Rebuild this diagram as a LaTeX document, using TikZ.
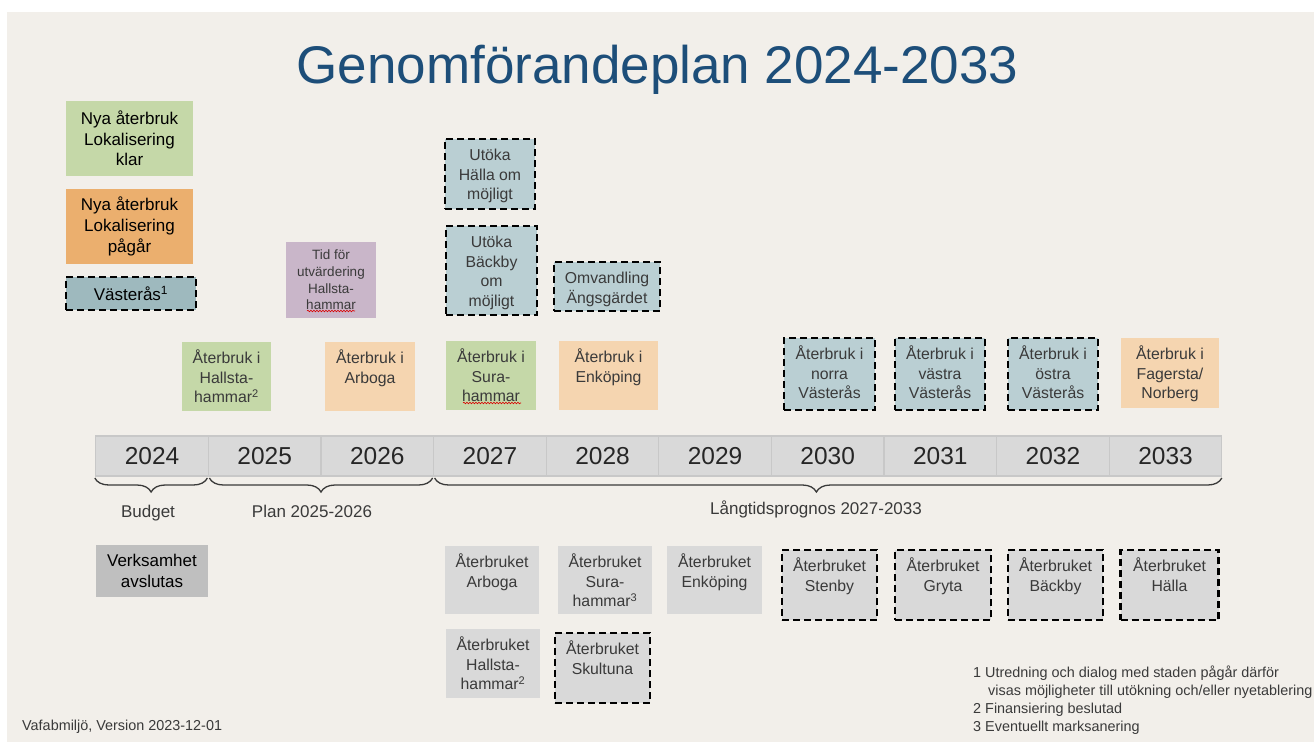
\documentclass[tikz,border=0pt]{standalone}
\usepackage{fontspec}
\setmainfont{Liberation Sans}
\usepackage[dvipsnames]{xcolor}
\usetikzlibrary{positioning,decorations.pathreplacing,decorations.pathmorphing}

\definecolor{slide}{HTML}{F2EFEA}
\definecolor{titleblue}{HTML}{1D4E79}
\definecolor{klargreen}{HTML}{C5D8A8}
\definecolor{pagorange}{HTML}{EBAF6E}
\definecolor{lightorange}{HTML}{F5D5B0}
\definecolor{vasteras}{HTML}{9EB9BE}
\definecolor{vastlight}{HTML}{BACFD3}
\definecolor{evalpurple}{HTML}{C9B6C9}
\definecolor{closedgrey}{HTML}{D9D9D9}
\definecolor{endgrey}{HTML}{BFBFBF}
\definecolor{cellline}{HTML}{C8C8C8}
\definecolor{ink}{HTML}{3A3A3A}

\begin{document}
\begin{tikzpicture}[x=1pt,y=-1pt,
    box/.style 2 args={rectangle,inner sep=0pt,outer sep=0pt,minimum width=#1pt,minimum height=#2pt},
    box text/.style={draw=none,fill=none,inner sep=0pt,align=center,text=ink,font=\fontsize{15.8}{19.7}\selectfont},
    top text/.style={label={[box text,anchor=north,yshift=-7.5pt]north:\strut #1}},
    dash box/.style={draw=black,line width=2.3pt,dash pattern=on 7pt off 4pt},
    legend text/.style={align=center,text=black,font=\fontsize{17}{20.7}\selectfont},
    year node/.style={rectangle,draw=cellline,line width=1.2pt,fill=closedgrey,minimum width=112.6pt,minimum height=40pt,inner sep=0pt,outer sep=0pt,text=black!85,font=\fontsize{24.5}{28}\selectfont},
    brace/.style={decorate,decoration={brace,mirror,amplitude=14pt,#1},draw=ink,line width=1.3pt},
    brace label/.style={text=ink,font=\fontsize{17}{20}\selectfont},
    note/.style={inner sep=0pt,text=ink,font=\fontsize{14.4}{18}\selectfont},
    squiggle/.style={decorate,decoration={snake,amplitude=0.8pt,segment length=3pt},draw=red!85!black,line width=0.6pt}]

    \useasboundingbox (0,0) rectangle (1314,742);
    \fill[white] (0,0) rectangle (1314,742);
    \fill[slide] (7,12) rectangle (1314,742);

    \node[text=titleblue,anchor=base,font=\fontsize{53}{60}\selectfont] (title) at (657.5,83) {Genomförandeplan 2024-2033};

    % legend
    \node[box={127}{75},fill=klargreen,legend text] (klar) at (129.5,138.5) {Nya återbruk\\Lokalisering\\klar};
    \node[box={127}{75},fill=pagorange,legend text] (pagar) at (129.5,226.5) {Nya återbruk\\Lokalisering\\pågår};
    \node[box={130}{33},fill=vasteras,dash box,legend text] (vast) at (131,293.5) {Västerås\textsuperscript{1}};

    \node[box={90}{76},fill=evalpurple,align=center,text=ink,font=\fontsize{13.5}{16.6}\selectfont] (eval) at (331,280) {Tid för\\utvärdering\\Hallsta-\\hammar};
    \draw[squiggle] (307,311) -- (355,311);

    % new sites
    \node[box={90}{70},fill=vastlight,dash box,top text={Utöka\\Hälla om\\möjligt}] (uthalla) at (490,174) {};
    \node[box={91}{89},fill=vastlight,dash box,top text={Utöka\\Bäckby\\om\\möjligt}] (utbackby) at (491.5,270.5) {};
    \node[box={106}{49},fill=vastlight,dash box,top text={Omvandling\\Ängsgärdet}] (omv) at (607,286.5) {};

    \node[box={89}{69},fill=klargreen,top text={Återbruk i\\Hallsta-\\hammar\textsuperscript{2}}] (hallsta) at (226.5,376.5) {};
    \node[box={90}{69},fill=lightorange,top text={Återbruk i\\Arboga}] (arboga) at (370,376.5) {};
    \node[box={90}{69},fill=klargreen,top text={Återbruk i\\Sura-\\hammar}] (sura) at (491,375.5) {};
    \draw[squiggle] (463,403) -- (521,403);
    \node[box={99}{69},fill=lightorange,top text={Återbruk i\\Enköping}] (enk) at (608.5,375.5) {};
    \node[box={91}{72},fill=vastlight,dash box,top text={Återbruk i\\norra\\Västerås}] (norra) at (829.5,374) {};
    \node[box={90}{72},fill=vastlight,dash box,top text={Återbruk i\\västra\\Västerås}] (vastra) at (940,374) {};
    \node[box={90}{72},fill=vastlight,dash box,top text={Återbruk i\\östra\\Västerås}] (ostra) at (1053,374) {};
    \node[box={98}{70},fill=lightorange,top text={Återbruk i\\Fagersta/\\Norberg}] (fagersta) at (1170,373) {};

    % years
    \node[year node] (y2024) at (152.1,456) {2024};
    \node[year node] (y2025) [right=0pt of y2024] {2025};
    \node[year node] (y2026) [right=0pt of y2025] {2026};
    \node[year node] (y2027) [right=0pt of y2026] {2027};
    \node[year node] (y2028) [right=0pt of y2027] {2028};
    \node[year node] (y2029) [right=0pt of y2028] {2029};
    \node[year node] (y2030) [right=0pt of y2029] {2030};
    \node[year node] (y2031) [right=0pt of y2030] {2031};
    \node[year node] (y2032) [right=0pt of y2031] {2032};
    \node[year node] (y2033) [right=0pt of y2032] {2033};

    \draw[brace] ([xshift=-1pt,yshift=-2pt]y2024.south west) -- ([xshift=-1pt,yshift=-2pt]y2024.south east);
    \draw[brace] ([xshift=1pt,yshift=-2pt]y2025.south west) -- ([xshift=-1pt,yshift=-2pt]y2026.south east);
    \draw[brace={aspect=0.485}] ([xshift=1pt,yshift=-2pt]y2027.south west) -- ([yshift=-2pt]y2033.south east);

    \node[brace label] (budget) at (148,513) {Budget};
    \node[brace label] (plan) at (312,511) {Plan 2025-2026};
    \node[brace label] (prognos) at (816,509) {Långtidsprognos 2027-2033};

    % closing
    \node[box={112}{52},fill=endgrey,legend text] (slut) at (152,571) {Verksamhet\\avslutas};
    \node[box={94}{68},fill=closedgrey,top text={Återbruket\\Arboga}] (sarboga) at (492,580) {};
    \node[box={94}{68},fill=closedgrey,top text={Återbruket\\Sura-\\hammar\textsuperscript{3}}] (ssura) at (605,580) {};
    \node[box={95}{68},fill=closedgrey,top text={Återbruket\\Enköping}] (senk) at (714.5,580) {};
    \node[box={95}{70},fill=closedgrey,dash box,top text={Återbruket\\Stenby}] (stenby) at (829.5,585) {};
    \node[box={96}{70},fill=closedgrey,dash box,top text={Återbruket\\Gryta}] (gryta) at (943,585) {};
    \node[box={95}{70},fill=closedgrey,dash box,top text={Återbruket\\Bäckby}] (backby) at (1055.5,585) {};
    \node[box={98}{70},fill=closedgrey,dash box,top text={Återbruket\\Hälla}] (halla) at (1169.5,585) {};
    \node[box={94}{69},fill=closedgrey,top text={Återbruket\\Hallsta-\\hammar\textsuperscript{2}}] (shallsta) at (493,663.5) {};
    \node[box={95}{70},fill=closedgrey,dash box,top text={Återbruket\\Skultuna}] (skultuna) at (602.5,668) {};

    % notes
    \node[note,align=left,anchor=north west] (notes) at (973,666) {1 Utredning och dialog med staden pågår därför\\\hspace*{15pt}visas möjligheter till utökning och/eller nyetablering\\2 Finansiering beslutad\\3 Eventuellt marksanering};
    \node[note,anchor=base west] (version) at (22,730) {Vafabmiljö, Version 2023-12-01};
\end{tikzpicture}
\end{document}
